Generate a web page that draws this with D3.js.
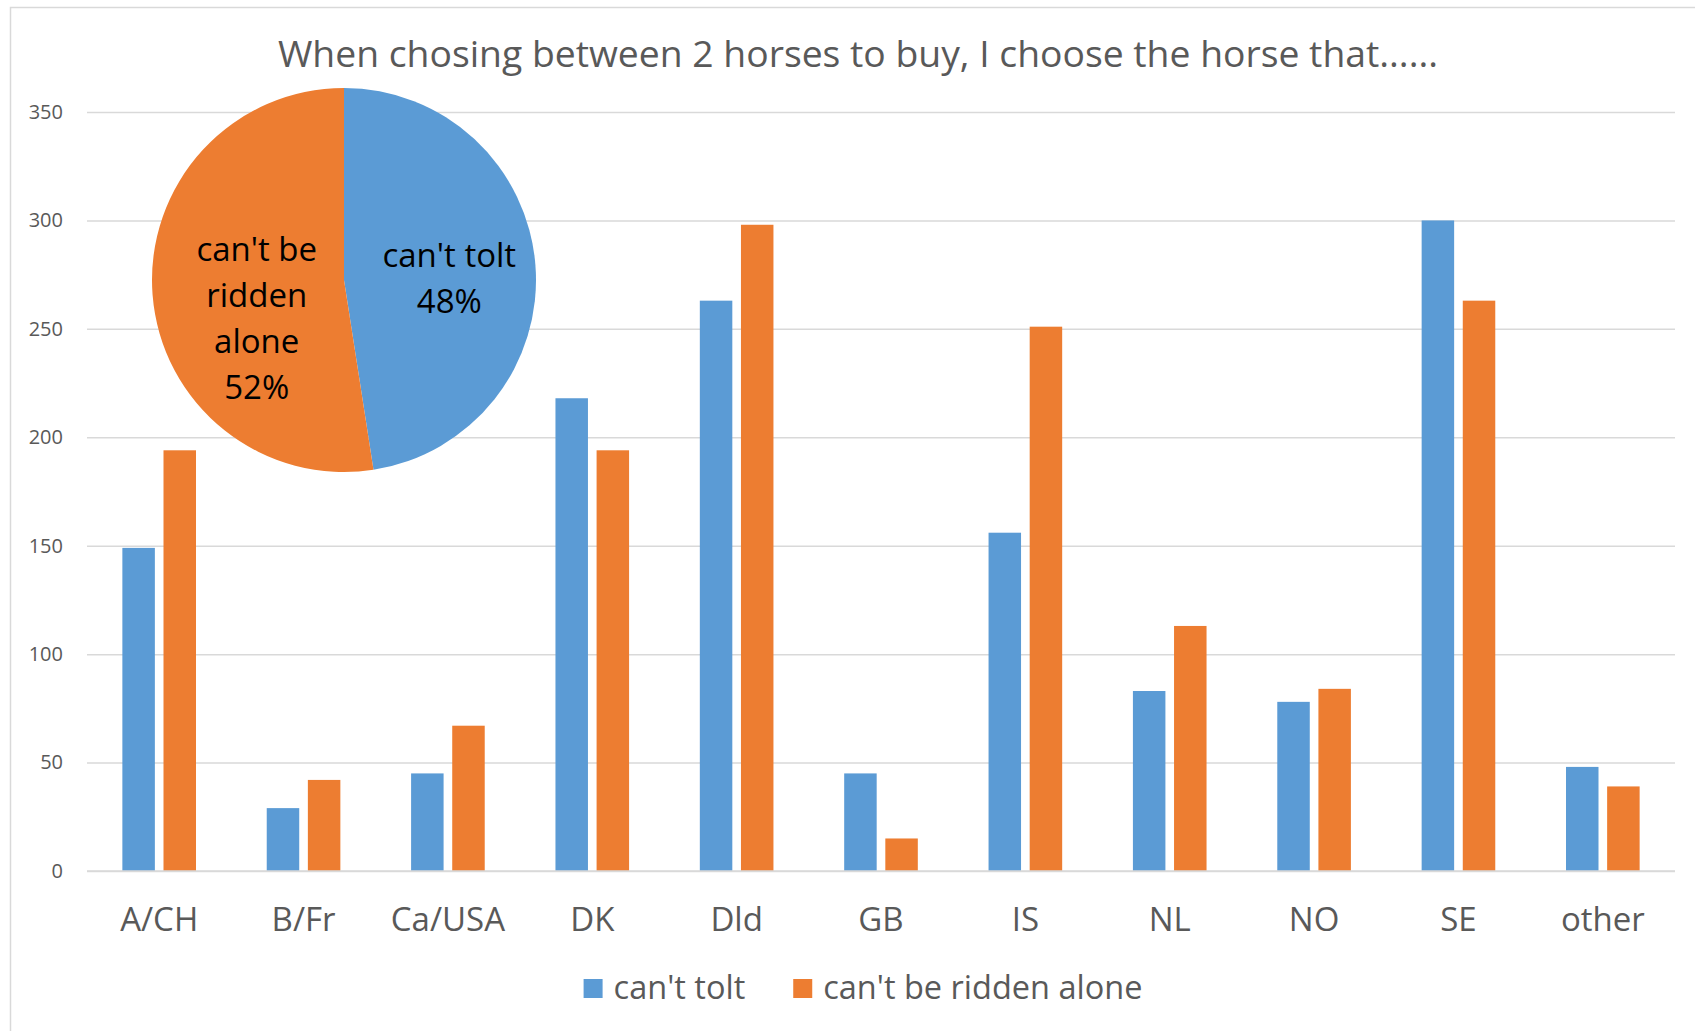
<!DOCTYPE html>
<html lang="en">
<head>
<meta charset="utf-8">
<title>horses</title>
<script src="https://d3js.org/d3.v7.min.js"></script>
<style>
  body { margin: 0; background: #fff; }
  text { font-family: "Open Sans", "Noto Sans", sans-serif; }
  .grid line { stroke: #d9d9d9; stroke-width: 1.5; }
  .grid .domain { display: none; }
  .ylab text { fill: #595959; font-size: 20px; }
  .xlab text { fill: #595959; font-size: 33px; }
  .xlab .domain, .xlab line { display: none; }
</style>
</head>
<body>
<script>
// values
var categories = ["A/CH", "B/Fr", "Ca/USA", "DK", "Dld", "GB", "IS", "NL", "NO", "SE", "other"];
var cantTolt = [149, 29, 45, 218, 263, 45, 156, 83, 78, 300, 48];
var cantBeRiddenAlone = [194, 42, 67, 194, 298, 15, 251, 113, 84, 263, 39];
var seriesNames = ["can't tolt", "can't be ridden alone"];
var yTicks = [0, 50, 100, 150, 200, 250, 300, 350];
var pieLines = [["can't tolt"], ["can't be", "ridden", "alone"]];

var colors = ["#5b9bd5", "#ed7d31"];
var W = 1695, H = 1031;
var plotL = 87, plotR = 1675, plotT = 112, plotB = 871;

var svg = d3.select("body").append("svg")
  .attr("width", W)
  .attr("height", H);

// chart frame
svg.append("rect")
  .attr("x", 10.5).attr("y", 7.5)
  .attr("width", 1720).attr("height", 1060)
  .attr("fill", "none")
  .attr("stroke", "#d9d9d9")
  .attr("stroke-width", 1.5);

svg.append("text")
  .attr("x", 858).attr("y", 67)
  .attr("text-anchor", "middle")
  .style("font-size", "37.3px")
  .style("fill", "#595959")
  .text("When chosing between 2 horses to buy, I choose the horse that......");

var y = d3.scaleLinear().domain([0, 350]).range([plotB, plotT]);
var x0 = d3.scaleBand().domain(categories).range([plotL, plotR])
  .paddingInner(0.49).paddingOuter(0.245);
var x1 = d3.scaleBand().domain(d3.range(seriesNames.length))
  .range([0, x0.bandwidth()]).paddingInner(0.21);

// gridlines + y labels
svg.append("g")
  .attr("class", "grid ylab")
  .attr("transform", "translate(" + plotL + ",0)")
  .call(d3.axisLeft(y).tickValues(yTicks).tickSize(-(plotR - plotL)).tickPadding(24));

var rows = categories.map(function(c, i) {
  return { cat: c, vals: [cantTolt[i], cantBeRiddenAlone[i]] };
});

var groups = svg.append("g").selectAll("g")
  .data(rows)
  .enter().append("g")
  .attr("transform", function(d) { return "translate(" + x0(d.cat) + ",0)"; });

groups.selectAll("rect")
  .data(function(d) { return d.vals; })
  .enter().append("rect")
  .attr("x", function(d, i) { return x1(i); })
  .attr("y", function(d) { return y(d); })
  .attr("width", x1.bandwidth())
  .attr("height", function(d) { return y(0) - y(d); })
  .attr("fill", function(d, i) { return colors[i]; });

// baseline drawn again over the bars
svg.append("line")
  .attr("x1", plotL).attr("x2", plotR)
  .attr("y1", plotB).attr("y2", plotB)
  .attr("stroke", "#d9d9d9").attr("stroke-width", 1.5);

svg.append("g")
  .attr("class", "xlab")
  .attr("transform", "translate(0," + plotB + ")")
  .call(d3.axisBottom(x0).tickSize(0).tickPadding(37));

// legend
var legend = svg.append("g");
var items = legend.selectAll("g")
  .data(seriesNames)
  .enter().append("g");
items.append("rect")
  .attr("width", 19).attr("height", 19)
  .attr("y", 979)
  .attr("fill", function(d, i) { return colors[i]; });
items.append("text")
  .attr("x", 30).attr("y", 999)
  .style("font-size", "32.5px")
  .style("fill", "#595959")
  .text(function(d) { return d; });
var widths = [];
items.each(function() { widths.push(this.getBBox().width); });
var gap = 48;
var totalW = d3.sum(widths) + gap * (widths.length - 1);
var startX = 863 - totalW / 2;
items.attr("transform", function(d, i) {
  var tx = startX + d3.sum(widths.slice(0, i)) + gap * i;
  return "translate(" + tx + ",0)";
});

// inset pie with the totals of both series
var pieVals = [d3.sum(cantTolt), d3.sum(cantBeRiddenAlone)];
var total = d3.sum(pieVals);
var cx = 344, cy = 280, r = 192;
var pie = d3.pie().sort(null)(pieVals);
var arc = d3.arc().innerRadius(0).outerRadius(r);
var labelArc = d3.arc().innerRadius(r * 0.55).outerRadius(r * 0.55);
var nudge = [[0, 7], [18, 31]];

var pg = svg.append("g").attr("transform", "translate(" + cx + "," + cy + ")");
pg.selectAll("path")
  .data(pie)
  .enter().append("path")
  .attr("d", arc)
  .attr("fill", function(d, i) { return colors[i]; });

pg.selectAll(".plab")
  .data(pie)
  .enter().append("text")
  .attr("class", "plab")
  .attr("text-anchor", "middle")
  .style("font-size", "33px")
  .style("fill", "#000")
  .each(function(d, i) {
    var c = labelArc.centroid(d);
    var lines = pieLines[i].concat([Math.round(d.value / total * 100) + "%"]);
    var lh = 46;
    var y0 = c[1] + nudge[i][1] - (lines.length - 1) * lh / 2 + 11;
    var t = d3.select(this);
    lines.forEach(function(s, k) {
      t.append("tspan")
        .attr("x", c[0] + nudge[i][0])
        .attr("y", y0 + k * lh)
        .text(s);
    });
  });
</script>
</body>
</html>
